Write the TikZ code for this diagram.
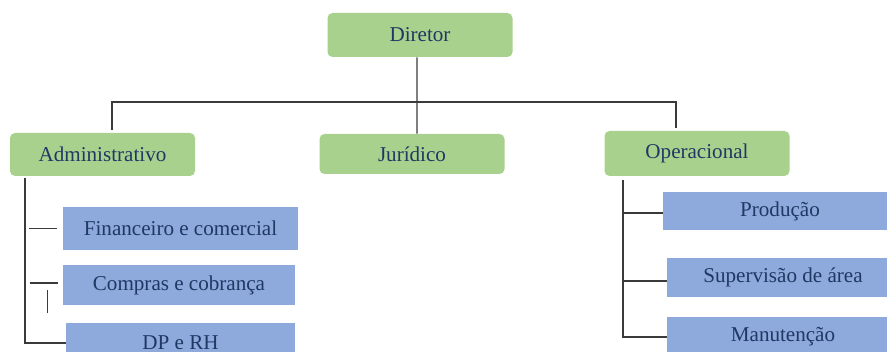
\documentclass[tikz,border=0pt]{standalone}
\usepackage{fontspec}
\setmainfont{Liberation Serif}
\definecolor{boxgreen}{HTML}{A9D18E}
\definecolor{boxblue}{HTML}{8EA9DB}
\definecolor{txtnavy}{HTML}{1F3864}
\definecolor{linegray}{HTML}{3A3A3A}
\begin{document}
\begin{tikzpicture}[
  grnbox/.style={rectangle, rounded corners=0.1cm, fill=boxgreen, draw=none,
    minimum width=3.7cm, minimum height=0.86cm, text=txtnavy,
    font=\fontsize{12}{14}\selectfont},
  blubox/.style={rectangle, fill=boxblue, draw=none,
    minimum height=0.8cm, text=txtnavy, font=\fontsize{12}{14}\selectfont},
  conn/.style={draw=linegray, line width=0.7pt}
]
\useasboundingbox (0,0) rectangle (17.74,7.04);
\clip (0,0) rectangle (17.74,7.04);

% Top box
\node (dir) at (8.4, 6.34) [grnbox, minimum height=0.88cm] {Diretor};

% Second level
\node (adm) at (2.05, 3.95) [grnbox] {Administrativo};
\node (jur) at (8.24, 3.96) [grnbox, minimum height=0.8cm] {Jurídico};
\node (ope) at (13.94, 3.97) [grnbox, minimum height=0.9cm] {Operacional};

\coordinate (bar) at (8.34, 5.0);
\draw[conn] ([xshift=-0.06cm]dir.south) -- ([xshift=0.1cm]jur.north);
\draw[conn] ([xshift=0.19cm, yshift=0.06cm]adm.north) |- (bar)
  -| ([xshift=-0.42cm, yshift=0.06cm]ope.north);

% Left branch
\node (fin) at (3.61, 2.47) [blubox, minimum width=4.7cm, minimum height=0.86cm] {Financeiro e comercial};
\node (com) at (3.58, 1.34) [blubox, minimum width=4.64cm] {Compras e cobrança};
\node (dpr) at (3.61, 0.18) [blubox, minimum width=4.58cm] {DP e RH};

\draw[conn] ([xshift=-1.55cm, yshift=-0.04cm]adm.south) |- (dpr.west);
\draw[conn] ([xshift=-0.68cm]fin.west) -- ([xshift=-0.12cm]fin.west);
\draw[conn] ([xshift=-0.66cm, yshift=0.04cm]com.west) -- ([xshift=-0.1cm, yshift=0.04cm]com.west);
\draw[conn] ([xshift=-0.3cm, yshift=-0.1cm]com.west) -- ([xshift=-0.3cm, yshift=-0.56cm]com.west);

% Right branch
\node (pro) at (15.6, 2.82) [blubox, minimum width=4.68cm, minimum height=0.76cm] {Produção};
\node (sup) at (15.66, 1.49) [blubox, minimum width=4.64cm, minimum height=0.78cm] {Supervisão de área};
\node (man) at (15.66, 0.3) [blubox, minimum width=4.64cm] {Manutenção};

\draw[conn] ([xshift=-1.48cm, yshift=-0.08cm]ope.south) |- (man.west);
\draw[conn] ([xshift=-0.8cm, yshift=-0.04cm]pro.west) -- ([yshift=-0.04cm]pro.west);
\draw[conn] ([xshift=-0.88cm, yshift=-0.07cm]sup.west) -- ([yshift=-0.07cm]sup.west);

\end{tikzpicture}
\end{document}
